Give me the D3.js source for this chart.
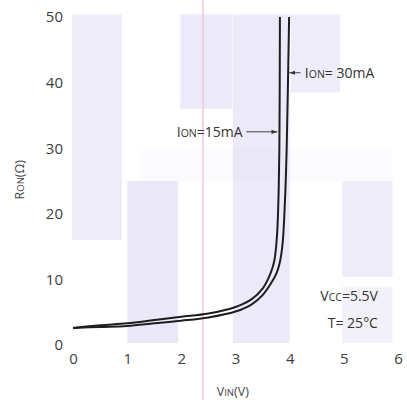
<!DOCTYPE html>
<html>
<head>
<meta charset="utf-8">
<script src="https://cdn.jsdelivr.net/npm/d3@7"></script>
<style>
  body { margin: 0; background: #fff; }
  text { font-family: "Open Sans", "Noto Sans", sans-serif; }
</style>
</head>
<body>
<script>
// values
const vin15 = [0, 0.5, 1, 1.5, 2, 2.5, 3, 3.3, 3.5, 3.62, 3.68, 3.72, 3.75, 3.775, 3.795, 3.81, 3.82];
const ron15 = [2.6, 3.0, 3.3, 3.8, 4.3, 4.8, 5.8, 7.0, 8.6, 10.4, 11.7, 13, 15, 18, 23, 30, 50];
const vin30 = [0, 0.5, 1, 1.5, 2, 2.5, 3, 3.3, 3.5, 3.67, 3.76, 3.81, 3.845, 3.875, 3.9, 3.925, 3.945, 3.99];
const ron30 = [2.6, 2.75, 2.9, 3.3, 3.7, 4.2, 5.1, 6.2, 7.6, 9.6, 11.0, 12.3, 13.8, 16, 19.5, 24.5, 30, 50];
const xTicks = [0, 1, 2, 3, 4, 5, 6];
const yTicks = [0, 10, 20, 30, 40, 50];

// scanned page bleed-through: [v0, v1, rTop, rBottom, opacity]
const bleed = [
  [-0.02, 0.9, 50.4, 16, 0.6],
  [1.0, 1.94, 25, 0.3, 0.7],
  [1.98, 2.94, 50.4, 36, 0.65],
  [2.95, 4.0, 50.4, 0.3, 0.65],
  [4.02, 4.93, 50.4, 38.5, 0.6],
  [4.97, 5.9, 25, 10.4, 0.6],
  [4.97, 5.9, 8.9, 0.3, 0.4],
  [1.25, 5.9, 29.8, 25, 0.15],
];

const W = 407, H = 400;
const margin = { top: 17, right: 9, bottom: 55, left: 73 };

const svg = d3.select("body").append("svg")
  .attr("width", W).attr("height", H);

const x = d3.scaleLinear().domain([0, 6]).range([margin.left, W - margin.right]);
const y = d3.scaleLinear().domain([0, 50]).range([H - margin.bottom, margin.top]);

// background
svg.append("g").selectAll("rect")
  .data(bleed)
  .enter()
  .append("rect")
  .attr("x", (d) => x(d[0]))
  .attr("width", (d) => x(d[1]) - x(d[0]))
  .attr("y", (d) => y(d[2]))
  .attr("height", (d) => y(d[3]) - y(d[2]))
  .attr("fill", "rgb(226,223,244)")
  .attr("opacity", (d) => d[4]);

svg.append("line")
  .attr("x1", x(2.4)).attr("x2", x(2.4))
  .attr("y1", 0).attr("y2", H)
  .attr("stroke", "#f0c6e0")
  .attr("stroke-width", 1.5);

// axes (labels only)
const xAxis = svg.append("g")
  .attr("transform", `translate(0,${y(0)})`)
  .call(d3.axisBottom(x).tickValues(xTicks).tickFormat(d3.format("d")).tickSize(0).tickPadding(8));
const yAxis = svg.append("g")
  .attr("transform", `translate(${x(0)},0)`)
  .call(d3.axisLeft(y).tickValues(yTicks).tickFormat(d3.format("d")).tickSize(0).tickPadding(10));
[xAxis, yAxis].forEach((a) => {
  a.select(".domain").remove();
  a.selectAll("text")
    .attr("font-size", 15)
    .attr("fill", "#404040")
    .style("font-family", '"Open Sans", sans-serif');
});

// curves
const line = d3.line()
  .x((d) => x(d[0]))
  .y((d) => y(d[1]))
  .curve(d3.curveCatmullRom.alpha(0.5));

const series = [d3.zip(vin15, ron15), d3.zip(vin30, ron30)];
svg.append("g").selectAll("path")
  .data(series)
  .enter()
  .append("path")
  .attr("d", line)
  .attr("fill", "none")
  .attr("stroke", "#1e1e1e")
  .attr("stroke-width", 2);

// arrows
svg.append("defs").append("marker")
  .attr("id", "ah")
  .attr("viewBox", "0 0 10 10")
  .attr("refX", 10).attr("refY", 5)
  .attr("markerWidth", 6).attr("markerHeight", 6)
  .attr("orient", "auto")
  .append("path")
  .attr("d", "M0,1.5L10,5L0,8.5Z")
  .attr("fill", "#333");

svg.append("line")
  .attr("x1", x(3.2)).attr("x2", x(3.775))
  .attr("y1", y(32.5)).attr("y2", y(32.5))
  .attr("stroke", "#444").attr("stroke-width", 1)
  .attr("marker-end", "url(#ah)");
svg.append("line")
  .attr("x1", x(4.2)).attr("x2", x(3.995))
  .attr("y1", y(41.5)).attr("y2", y(41.5))
  .attr("stroke", "#444").attr("stroke-width", 1)
  .attr("marker-end", "url(#ah)");

// labels with small caps
function smallCaps(sel, parts) {
  parts.forEach((p) => {
    sel.append("tspan").attr("font-size", p[1]).text(p[0]);
  });
  return sel;
}

smallCaps(svg.append("text")
  .attr("x", x(3.13)).attr("y", y(32.5))
  .attr("dy", "0.35em")
  .attr("text-anchor", "end")
  .attr("fill", "#333"),
  [["I", 14], ["ON", 10.5], ["=15mA", 14]]);

smallCaps(svg.append("text")
  .attr("x", x(4.28)).attr("y", y(41.5))
  .attr("dy", "0.35em")
  .attr("fill", "#333"),
  [["I", 14], ["ON", 10.5], ["= 30mA", 14]]);

smallCaps(svg.append("text")
  .attr("x", x(5.63)).attr("y", y(7.6))
  .attr("dy", "0.35em")
  .attr("text-anchor", "end")
  .attr("fill", "#333"),
  [["V", 14], ["CC", 10.5], ["=5.5V", 14]]);

svg.append("text")
  .attr("x", x(5.63)).attr("y", y(3.4))
  .attr("dy", "0.35em")
  .attr("text-anchor", "end")
  .attr("font-size", 14)
  .attr("fill", "#333")
  .text("T= 25°C");

// axis titles
smallCaps(svg.append("text")
  .attr("x", x(2.95)).attr("y", 390)
  .attr("dy", "0.35em")
  .attr("text-anchor", "middle")
  .attr("fill", "#444"),
  [["V", 12.5], ["IN", 9.5], ["(V)", 12.5]]);

smallCaps(svg.append("text")
  .attr("transform", `translate(18,${y(25.2)}) rotate(-90)`)
  .attr("dy", "0.35em")
  .attr("text-anchor", "middle")
  .attr("fill", "#444"),
  [["R", 12.5], ["ON", 9.5], ["(Ω)", 12.5]]);
</script>
</body>
</html>
